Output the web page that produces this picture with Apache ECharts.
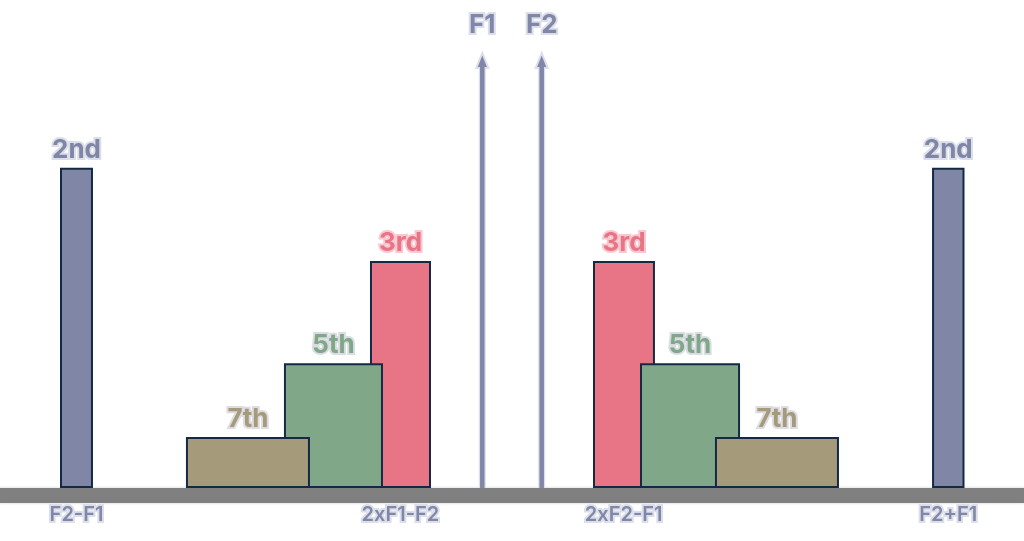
<!DOCTYPE html>
<html><head><meta charset="utf-8">
<script src="https://cdn.jsdelivr.net/npm/echarts@6/dist/echarts.min.js"></script>
<style>html,body{margin:0;padding:0;background:#fff}#c{width:1024px;height:541px}</style>
</head><body><div id="c"></div>
<script>
// ---- data (frequency axis 0..100, level axis 0..100) ----
const barLabels = ['2nd', '3rd', '5th', '7th', '3rd', '5th', '7th', '2nd'];
const barStart  = [5.86, 36.13, 27.73, 18.16, 57.91, 62.50, 69.82, 91.02];
const barEnd    = [9.08, 42.09, 37.40, 30.27, 63.96, 72.27, 81.93, 94.19];
const barHeight = [73.6, 52.2, 28.7, 11.7, 52.2, 28.7, 11.7, 73.6];

const toneNames = ['F1', 'F2'];
const toneFreq  = [47.1, 52.9];
const toneLevel = [100, 100];

const tickValues = [7.47, 39.1, 60.9, 92.6];
const tickLabels = ['F2-F1', '2xF1-F2', '2xF2-F1', 'F2+F1'];

// ---- styles ----
const colorOf = {'2nd': '#7f86a6', '3rd': '#e87585', '5th': '#80a787', '7th': '#a59b7b'};
const haloOf  = {'2nd': '#dcdfe9', '3rd': '#f6c9d0', '5th': '#d9dde3', '7th': '#dcdce2'};
const toneColor = '#8087a8';
const halo = '#dcdfe9';
const FONT = 'Inter, "Noto Sans", sans-serif';

function renderBar(params, api) {
  const i = params.dataIndex;
  const name = barLabels[i];
  const p0 = api.coord([api.value(0), 0]);
  const p1 = api.coord([api.value(1), api.value(2)]);
  const x = p0[0], w = p1[0] - p0[0], top = p1[1], bottom = p0[1];
  return {
    type: 'group',
    children: [
      {type: 'rect', shape: {x: x + 1, y: top + 1, width: w - 2, height: bottom - top - 2},
       style: {fill: colorOf[name], stroke: '#142a44', lineWidth: 2}},
      {type: 'text', style: {text: name, x: x + w / 2, y: top - 18, align: 'center', verticalAlign: 'middle',
        font: 'bold 26px ' + FONT, fill: colorOf[name], stroke: haloOf[name], lineWidth: 4}}
    ]
  };
}

function renderTone(params, api) {
  const i = params.dataIndex;
  const base = api.coord([api.value(0), 0]);
  const tip = api.coord([api.value(0), api.value(1)]);
  const headH = 15, headW = 6;
  const x = tip[0];
  return {
    type: 'group',
    children: [
      {type: 'line', shape: {x1: x, y1: base[1], x2: x, y2: tip[1] + headH}, style: {stroke: halo, lineWidth: 7}},
      {type: 'polygon', shape: {points: [[x, tip[1]], [x - headW, tip[1] + headH], [x + headW, tip[1] + headH]]},
       style: {fill: toneColor, stroke: halo, lineWidth: 2, lineJoin: 'miter'}},
      {type: 'line', shape: {x1: x, y1: base[1], x2: x, y2: tip[1] + headH - 1}, style: {stroke: toneColor, lineWidth: 4.5}},
      {type: 'text', style: {text: toneNames[i], x: x, y: tip[1] - 28, align: 'center', verticalAlign: 'middle',
        font: 'bold 26px ' + FONT, fill: toneColor, stroke: halo, lineWidth: 4}}
    ]
  };
}

const chart = echarts.init(document.getElementById('c'));
chart.setOption({
  animation: false,
  backgroundColor: '#ffffff',
  grid: {left: 0, right: 0, top: 53, bottom: 53},
  xAxis: {type: 'value', min: 0, max: 100, position: 'bottom', offset: 7.5,
     axisLine: {show: true, onZero: false, lineStyle: {color: '#808080', width: 15, shadowColor: '#c9cddc', shadowBlur: 3}},
     axisTick: {show: false}, splitLine: {show: false},
     axisLabel: {show: true, customValues: tickValues, margin: 19, verticalAlign: 'middle',
       formatter: function (v) { const k = tickValues.indexOf(v); return k >= 0 ? tickLabels[k] : ''; },
       color: toneColor, fontFamily: FONT, fontWeight: 600, fontSize: 20,
       textBorderColor: halo, textBorderWidth: 4}},
  yAxis: {type: 'value', min: 0, max: 100, show: false},
  series: [
    {type: 'custom', renderItem: renderTone, z: 3,
     data: toneFreq.map((f, i) => [f, toneLevel[i]])},
    {type: 'custom', renderItem: renderBar, z: 4,
     data: barStart.map((s, i) => [s, barEnd[i], barHeight[i]])}
  ]
});
</script>
</body></html>
